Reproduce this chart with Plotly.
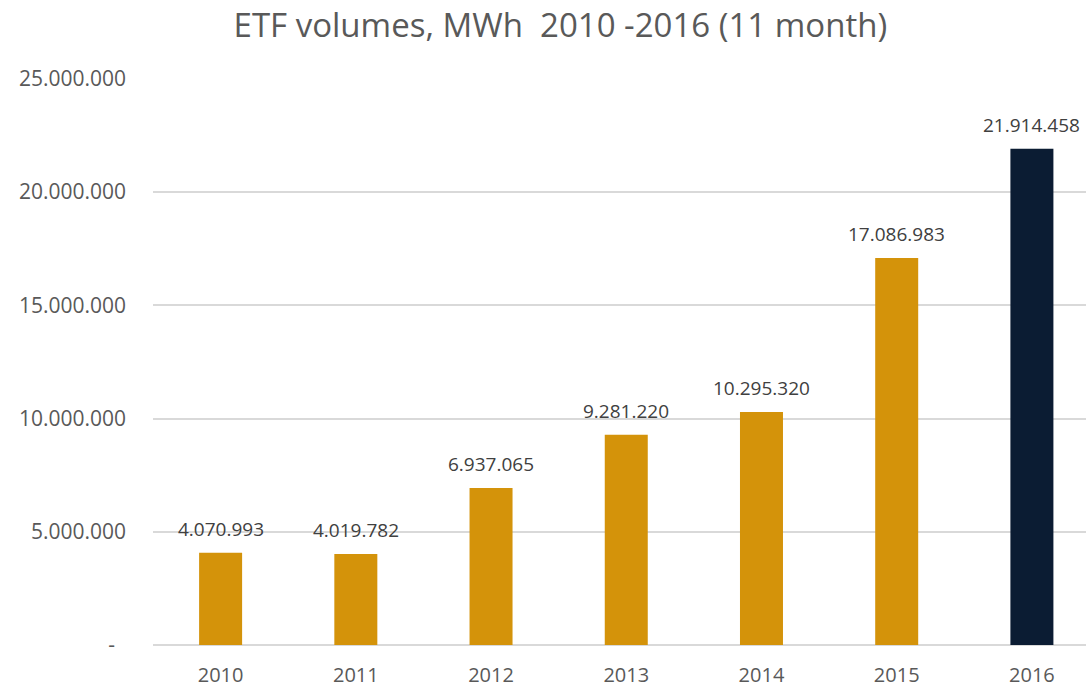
import plotly.graph_objects as go

years = ["2010", "2011", "2012", "2013", "2014", "2015", "2016"]
volumes = [4070993, 4019782, 6937065, 9281220, 10295320, 17086983, 21914458]
bar_colors = ["#D4930A"] * 6 + ["#0B1C33"]
tick_vals = [0, 5000000, 10000000, 15000000, 20000000, 25000000]
tick_text = ["-\u00a0\u00a0", "5.000.000", "10.000.000", "15.000.000", "20.000.000", "25.000.000"]


def fmt(v):
    return f"{v:,}".replace(",", ".")


labels = [fmt(v) for v in volumes]

fig = go.Figure(
    go.Bar(
        x=years,
        y=volumes,
        marker=dict(color=bar_colors, line=dict(width=0)),
        width=0.318,
        hoverinfo="x+y",
    )
)

# category axis: annotation x uses the category serial index
for i, (v, lab) in enumerate(zip(volumes, labels)):
    fig.add_annotation(
        x=i, y=v, xref="x", yref="y", text=lab, showarrow=False,
        yanchor="middle", yshift=24,
        font=dict(family="Open Sans", size=19, color="#404040"),
    )

fig.update_layout(
    width=1086,
    height=688,
    margin=dict(l=153, r=0, t=78, b=43),
    paper_bgcolor="white",
    plot_bgcolor="white",
    title=dict(
        text="ETF volumes, MWh  2010 -2016 (11 month)",
        x=0.516,
        xanchor="center",
        y=0.9637,
        yanchor="middle",
        font=dict(family="Open Sans", size=33, color="#595959"),
    ),
    showlegend=False,
    xaxis=dict(
        type="category",
        range=[-0.5, 6.4],
        showgrid=False,
        showline=False,
        ticks="",
        ticklabelstandoff=16,
        tickfont=dict(family="Open Sans", size=20, color="#595959"),
    ),
    yaxis=dict(
        range=[0, 25040000],
        tickvals=tick_vals,
        ticktext=tick_text,
        showgrid=True,
        gridcolor="#D9D9D9",
        gridwidth=1.5,
        zeroline=True,
        zerolinecolor="#D9D9D9",
        zerolinewidth=1.5,
        showline=False,
        ticklabelstandoff=26,
        tickfont=dict(family="Open Sans", size=21, color="#595959"),
    ),
)

fig.write_html(
    "out.html",
    config={"displayModeBar": False},
    post_script="document.body.style.margin='0';",
)
